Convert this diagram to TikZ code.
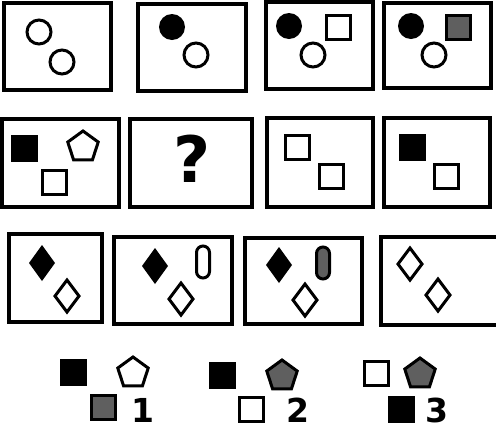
\documentclass[tikz,border=0pt]{standalone}
\usepackage{fontspec}
\newfontfamily\puzzlefont{DejaVu Sans}
\usepackage{tikz}
\usetikzlibrary{shapes.geometric}
\definecolor{shade}{RGB}{95,95,95}

% piezas del test
\newcommand{\ringpc}[2]{\draw[piece] (#1,#2) circle (12);}
\newcommand{\discpc}[2]{\fill (#1,#2) circle (13);}
\newcommand{\tilepc}[3]{\draw[piece,fill=#3] ({#1+1.5},{#2+1.5}) rectangle ({#1+25.5},{#2+25.5});}
\newcommand{\blkpc}[2]{\fill ({#1},{#2}) rectangle ({#1+27},{#2+27});}
\newcommand{\rhombpc}[3]{\draw[piece,fill=#3] ({#1},{#2-16}) -- ({#1+12},{#2}) -- ({#1},{#2+16}) -- ({#1-12},{#2}) -- cycle;}
\newcommand{\pillpc}[3]{\draw[piece,fill=#3,rounded corners=6.5] ({#1-6.5},{#2-16}) rectangle ({#1+6.5},{#2+16});}

\begin{document}
\begin{tikzpicture}[x=1pt, y=-1pt,
    piece/.style={line width=3pt, fill=white},
    cell/.style={line width=4pt},
    pent/.style={regular polygon, regular polygon sides=5, draw, line width=3pt,
        minimum size=32pt, inner sep=0pt}]

    \useasboundingbox (0,0) rectangle (496,429);

    % Fila 1: circulos
    \draw[cell] (4,3) rectangle (111,90);
    \ringpc{39}{32} \ringpc{62}{62}
    \draw[cell] (138,4) rectangle (246,91);
    \discpc{172}{27} \ringpc{196}{55}
    \draw[cell] (266,2) rectangle (373,89);
    \discpc{289}{26} \tilepc{325}{14}{white} \ringpc{313}{55}
    \draw[cell] (384,3) rectangle (491,88);
    \discpc{411}{26} \tilepc{445}{14}{shade} \ringpc{434}{55}

    % Fila 2: cuadrados
    \draw[cell] (2,119) rectangle (119,207);
    \blkpc{11}{135} \tilepc{41}{169}{white}
    \node[pent, fill=white] (p1) at (83,147) {};
    \draw[cell] (130,119) rectangle (252,207);
    \node[font=\puzzlefont\bfseries\fontsize{64}{64}\selectfont, inner sep=0pt] (q) at (192,159) {?};
    \draw[cell] (267,118) rectangle (373,207);
    \tilepc{284}{134}{white} \tilepc{318}{163}{white}
    \draw[cell] (384,118) rectangle (490,207);
    \blkpc{399}{134} \tilepc{433}{163}{white}

    % Fila 3: rombos
    \draw[cell] (9,234) rectangle (102,322);
    \fill (42,245) -- (55,263) -- (42,281) -- (29,263) -- cycle;
    \rhombpc{67}{296}{white}
    \draw[cell] (114,237) rectangle (232,324);
    \fill (155,248) -- (168,266) -- (155,284) -- (142,266) -- cycle;
    \pillpc{203}{262}{white} \rhombpc{181}{299}{white}
    \draw[cell] (245,238) rectangle (362,324);
    \fill (279,247) -- (292,265) -- (279,283) -- (266,265) -- cycle;
    \pillpc{323}{263}{shade} \rhombpc{305}{300}{white}
    \draw[cell] (381,237) rectangle (505,325);
    \rhombpc{410}{264}{white} \rhombpc{438}{295}{white}

    % Opciones
    \blkpc{60}{359}
    \node[pent, fill=white] (o1) at (133,373) {};
    \tilepc{90}{394}{shade}
    \node[font=\puzzlefont\bfseries\fontsize{33}{33}\selectfont, inner sep=0pt] (n1) at (143,410) {1};

    \blkpc{209}{362}
    \node[pent, fill=shade] (o2) at (282,376) {};
    \tilepc{238}{396}{white}
    \node[font=\puzzlefont\bfseries\fontsize{33}{33}\selectfont, inner sep=0pt] (n2) at (298,410) {2};

    \tilepc{363}{360}{white}
    \node[pent, fill=shade] (o3) at (420,374) {};
    \blkpc{388}{396}
    \node[font=\puzzlefont\bfseries\fontsize{33}{33}\selectfont, inner sep=0pt] (n3) at (437,410) {3};

\end{tikzpicture}
\end{document}
